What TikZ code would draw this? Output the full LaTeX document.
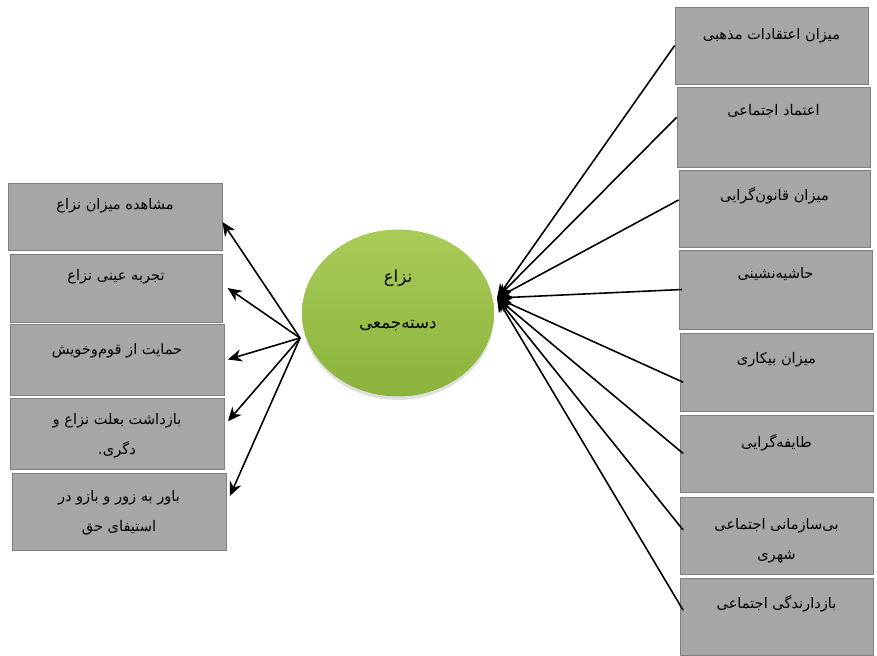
\documentclass[tikz,border=0pt]{standalone}
\usepackage{fontspec}
\newfontfamily\fa[Script=Arabic]{DejaVu Sans}
\TeXXeTstate=1
\usetikzlibrary{arrows.meta, calc, fit, positioning, shapes.geometric, shadows}
\definecolor{boxgray}{HTML}{A6A6A6}
\definecolor{boxline}{HTML}{808080}
\definecolor{greentop}{HTML}{A9CC58}
\definecolor{greenbot}{HTML}{8AB33B}
\tikzset{>={Stealth[length=8pt,width=7pt]}}
\tikzset{
  box/.style={draw=boxline, fill=boxgray, inner sep=0pt},
  lbl/.style={font=\fa\fontsize{8.3}{17}\selectfont, align=center, anchor=north, inner sep=0pt},
  blob/.style={ellipse, minimum width=3.84cm, minimum height=3.34cm, inner sep=0pt,
    top color=greentop, bottom color=greenbot, draw=none,
    drop shadow={opacity=0.25, shadow xshift=0pt, shadow yshift=-2pt}},
  blobtxt/.style={font=\fa\fontsize{9.5}{18}\selectfont, align=center, inner sep=0pt},
  link/.style={line width=0.9pt, black}
}

\begin{document}
\begin{tikzpicture}[x=0.02cm, y=-0.02cm]
\useasboundingbox (0,0) rectangle (877,656);
% centre
\node[blob] (core) at (398,313) {};
\node[blobtxt] (coretxt) at ([yshift=7pt]core.center) {\beginR نزاع\endR\\[8pt]\beginR دسته‌جمعی\endR};
\coordinate (src) at (300,338);
\coordinate (hub) at (497,298);
% left boxes
\node[box, fit={(8,183) (222,250)}] (l1) {};
\node[box, fit={(10,254) (222,322)}] (l2) {};
\node[box, fit={(10,324) (224,395)}] (l3) {};
\node[box, fit={(10,398) (224,469)}] (l4) {};
\node[box, fit={(12,473) (226,550)}] (l5) {};
\node[lbl] (l1txt) at ([yshift=-9pt]l1.north) {\beginR مشاهده میزان نزاع\endR};
\node[lbl] (l2txt) at ([yshift=-9pt]l2.north) {\beginR تجربه عینی نزاع\endR};
\node[lbl] (l3txt) at ([yshift=-11pt]l3.north) {\beginR حمایت از قوم‌وخویش\endR};
\node[lbl] (l4txt) at ([yshift=-9pt]l4.north) {\beginR بازداشت بعلت نزاع و\endR\\\beginR دگری.\endR};
\node[lbl] (l5txt) at ([yshift=-10pt]l5.north) {\beginR باور به زور و بازو در\endR\\\beginR استیفای حق\endR};
% right boxes
\node[box, fit={(675,7) (868,84)}] (r1) {};
\node[box, fit={(677,87) (870,167)}] (r2) {};
\node[box, fit={(679,170) (870,247)}] (r3) {};
\node[box, fit={(679,250) (872,329)}] (r4) {};
\node[box, fit={(680,333) (873,411)}] (r5) {};
\node[box, fit={(680,415) (873,492)}] (r6) {};
\node[box, fit={(680,497) (873,574)}] (r7) {};
\node[box, fit={(680,578) (873,655)}] (r8) {};
\node[lbl] (r1txt) at ([yshift=-12pt]r1.north) {\beginR میزان اعتقادات مذهبی\endR};
\node[lbl] (r2txt) at ([yshift=-10pt]r2.north) {\beginR اعتماد اجتماعی\endR};
\node[lbl] (r3txt) at ([yshift=-10pt]r3.north) {\beginR میزان قانون‌گرایی\endR};
\node[lbl] (r4txt) at ([yshift=-10pt]r4.north) {\beginR حاشیه‌نشینی\endR};
\node[lbl] (r5txt) at ([yshift=-11pt]r5.north) {\beginR میزان بیکاری\endR};
\node[lbl] (r6txt) at ([yshift=-11pt]r6.north) {\beginR طایفه‌گرایی\endR};
\node[lbl] (r7txt) at ([yshift=-12pt]r7.north) {\beginR بی‌سازمانی اجتماعی\endR\\\beginR شهری\endR};
\node[lbl] (r8txt) at ([yshift=-10pt]r8.north) {\beginR بازدارندگی اجتماعی\endR};
% arrows out to the left
\draw[link, ->] (src) -- ($(l1.north east)!0.58!(l1.south east)$);
\draw[link, ->] (src) -- ([xshift=3pt]l2.east);
\draw[link, ->] (src) -- ([xshift=2pt]l3.east);
\draw[link, ->] (src) -- ([xshift=2pt]$(l4.north east)!0.33!(l4.south east)$);
\draw[link, ->] (src) -- ([xshift=2pt]$(l5.north east)!0.3!(l5.south east)$);
% arrows in from the right
\draw[link, ->] (r1.west) -- (hub);
\draw[link, ->] ($(r2.north west)!0.38!(r2.south west)$) -- (hub);
\draw[link, ->] ($(r3.north west)!0.39!(r3.south west)$) -- (hub);
\draw[link, ->] ([xshift=2pt]r4.west) -- (hub);
\draw[link, ->] ([xshift=2pt]$(r5.north west)!0.63!(r5.south west)$) -- (hub);
\draw[link, ->] ([xshift=2pt]r6.west) -- (hub);
\draw[link, ->] ([xshift=2pt]$(r7.north west)!0.43!(r7.south west)$) -- (hub);
\draw[link, ->] ([xshift=2pt]$(r8.north west)!0.42!(r8.south west)$) -- (hub);
\end{tikzpicture}
\end{document}
